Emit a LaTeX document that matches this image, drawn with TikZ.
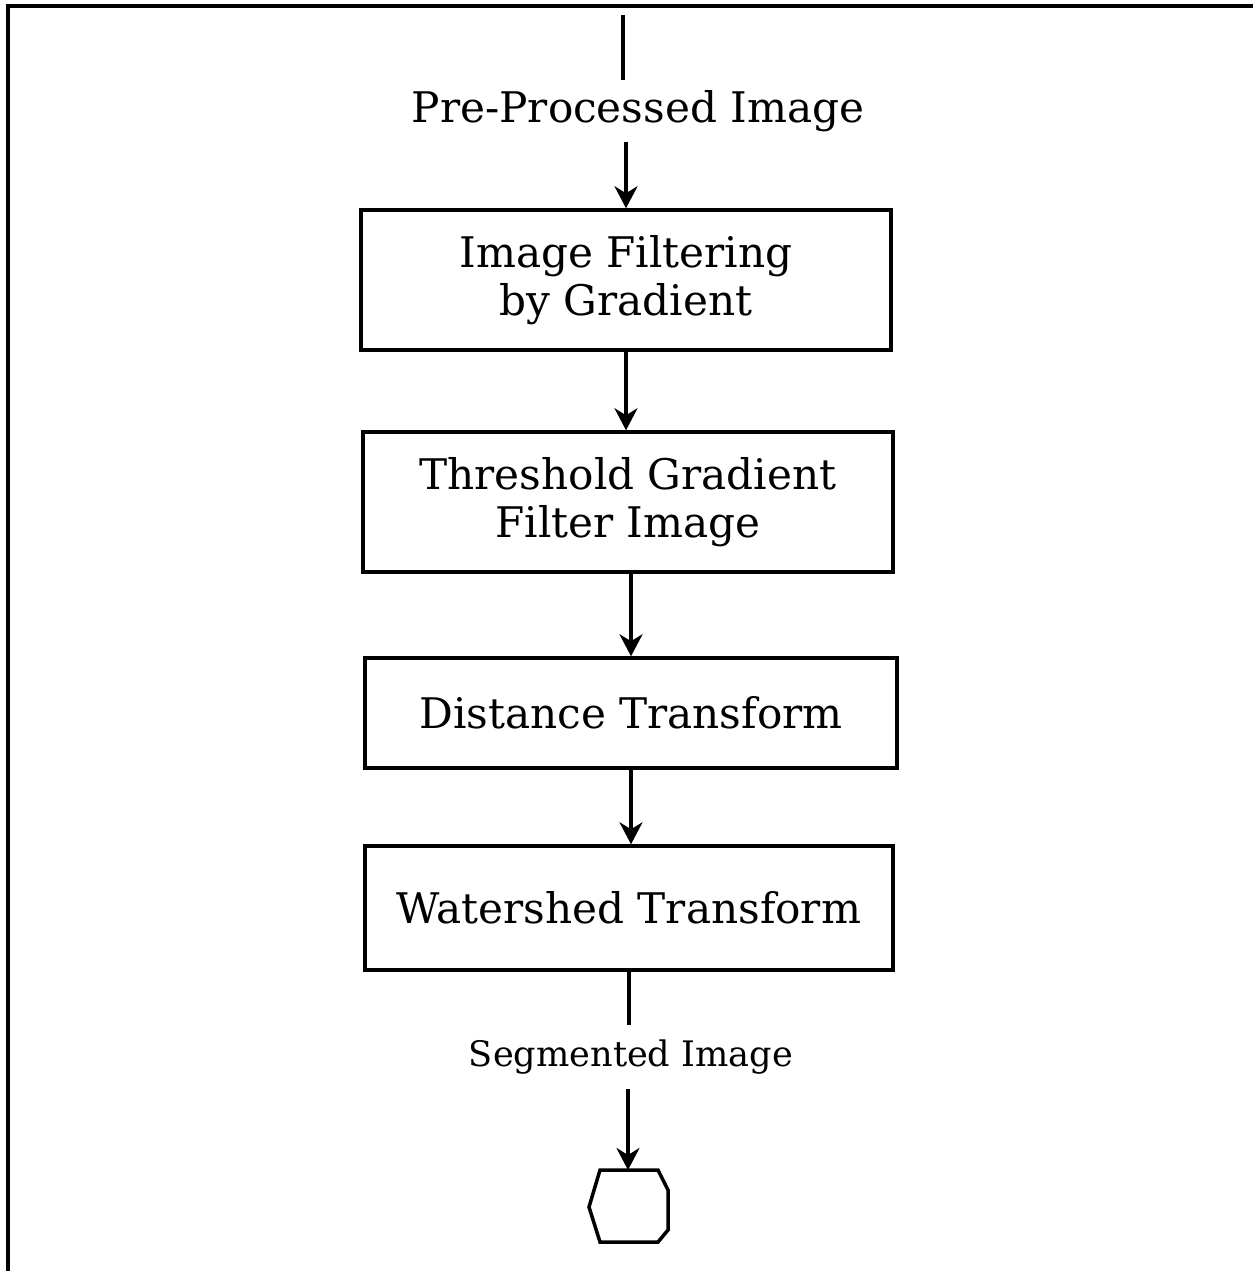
\documentclass[tikz,border=0pt]{standalone}
\usepackage{fontspec}
\setmainfont{DejaVu Serif}
\usetikzlibrary{arrows.meta}
\tikzset{%
  step box/.style = {
    draw, line width=2pt, align=center, inner sep=0pt,
    font=\fontsize{24}{27}\selectfont
  },
  flow text/.style = {
    inner xsep=0pt, inner ysep=5.5pt, font=\fontsize{24}{27}\selectfont
  },
  flow arrow/.style = {
    line width=2pt, -{Stealth[length=4.4mm,width=4.6mm,inset=1.4mm]}
  }
}
\begin{document}
\begin{tikzpicture}[x=0.02cm,y=-0.02cm]
\useasboundingbox (0,0) rectangle (1253,1271);
% frame
\draw[line width=2pt] (8,1271) -- (8,6) -- (1253,6);
\coordinate (in) at (623,15);
\node[flow text] (pre) at (638,111) {Pre-Processed Image};
\node[step box,minimum width=10.6cm,minimum height=2.8cm] (filter) at (626,280)
  {Image Filtering\\ by Gradient};
\node[step box,minimum width=10.6cm,minimum height=2.8cm] (thresh) at (628,502)
  {Threshold Gradient\\ Filter Image};
\node[step box,minimum width=10.64cm,minimum height=2.2cm] (dist) at (631,713)
  {Distance Transform};
\node[step box,minimum width=10.56cm,minimum height=2.48cm] (water) at (629,908)
  {Watershed Transform};
\node[flow text,inner ysep=8pt,font=\fontsize{20}{24}\selectfont] (seg) at (631,1057)
  {Segmented Image};
% terminator
\draw[line width=2pt] (600,1170) -- (658,1170) -- (668,1190) -- (668,1230)
  -- (658,1242) -- (600,1242) -- (589,1207) -- cycle;
\coordinate (stop) at (628,1170);
\draw[line width=2pt] (in) -- (in |- pre.north);
\draw[flow arrow] (filter.north |- pre.south) -- (filter.north);
\draw[flow arrow] (filter.south) -- (filter.south |- thresh.north);
\draw[flow arrow] (dist.north |- thresh.south) -- (dist.north);
\draw[flow arrow] (dist.south) -- (dist.south |- water.north);
\draw[line width=2pt] (water.south) -- (water.south |- seg.north);
\draw[flow arrow] (stop |- seg.south) -- (stop);
\end{tikzpicture}
\end{document}
